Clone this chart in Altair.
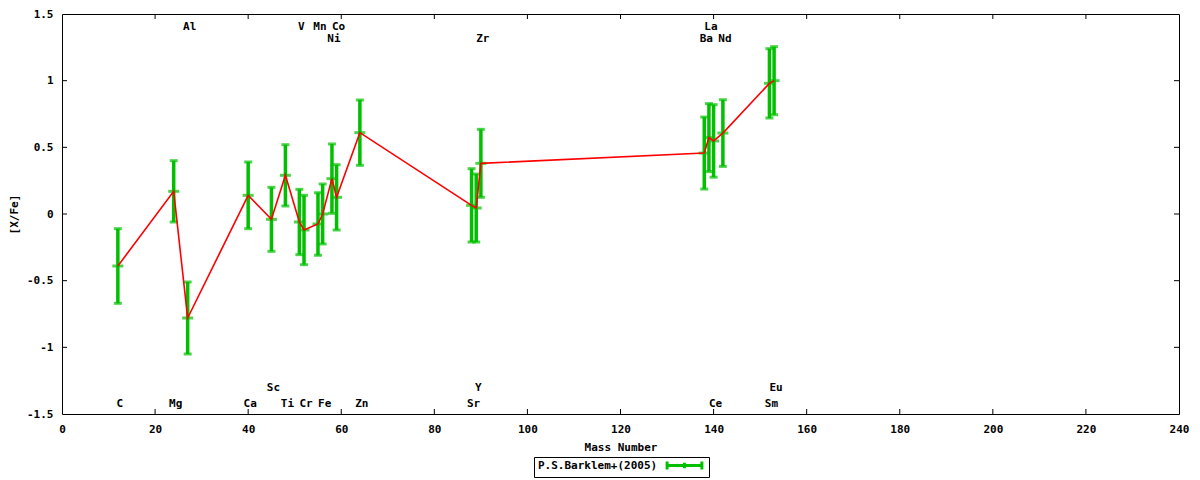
import altair as alt
import pandas as pd

# abundance pattern, one entry per element
elements = ["C", "Mg", "Al", "Ca", "Sc", "Ti", "V", "Cr", "Mn", "Fe", "Ni",
            "Co", "Zn", "Sr", "Y", "Zr", "Ba", "La", "Ce", "Nd", "Sm", "Eu"]
mass = [12, 24, 27, 40, 45, 48, 51, 52, 55, 56, 58,
        59, 64, 88, 89, 90, 138, 139, 140, 142, 152, 153]
xfe = [-0.39, 0.17, -0.78, 0.14, -0.04, 0.29, -0.06, -0.12, -0.075, 0.00, 0.265,
       0.125, 0.61, 0.065, 0.045, 0.38, 0.457, 0.573, 0.548, 0.607, 0.98, 1.00]
err = [0.28, 0.23, 0.27, 0.25, 0.24, 0.23, 0.245, 0.26, 0.235, 0.225, 0.26,
       0.245, 0.245, 0.275, 0.255, 0.255, 0.27, 0.255, 0.272, 0.25, 0.26, 0.255]
# which label row each element name sits in (t = top, b = bottom)
label_row = ["b1", "b1", "t1", "b1", "b2", "b1", "t1", "b1", "t1", "b1", "t2",
             "t1", "b1", "b1", "b2", "t2", "t2", "t1", "b1", "t2", "b1", "b2"]
source = "P.S.Barklem+(2005)"

x_ticks = list(range(0, 241, 20))
y_ticks = [-1.5, -1.0, -0.5, 0.0, 0.5, 1.0, 1.5]

row_y = {"t1": 1.405, "t2": 1.315, "b2": -1.305, "b1": -1.425}

df = pd.DataFrame({"element": elements, "mass": mass, "xfe": xfe, "err": err,
                   "row": label_row})
df["lo"] = df["xfe"] - df["err"]
df["hi"] = df["xfe"] + df["err"]
df["ly"] = df["row"].map(row_y)
df["src"] = source

W, H = 1117, 400
FONT = "DejaVu Sans Mono"
GREEN = "#00c000"

x_scale = alt.Scale(domain=[0, 240], nice=False, zero=False)
y_scale = alt.Scale(domain=[-1.5, 1.5], nice=False, zero=False)
x_axis = alt.Axis(values=x_ticks, ticks=False, domain=False, grid=False,
                  labelPadding=9, labelFlush=False, labelOverlap=False,
                  titleY=33, titleBaseline="middle")
y_axis = alt.Axis(values=y_ticks, ticks=False, domain=False, grid=False,
                  labelPadding=9, labelFlush=False, labelOverlap=False,
                  labelExpr="toString(datum.value)",
                  titleX=-48, titleY=H / 2, titleAlign="center",
                  titleBaseline="middle")


def xq(field):
    return alt.X(field, scale=x_scale, axis=x_axis, title="Mass Number")


def yq(field):
    return alt.Y(field, scale=y_scale, axis=y_axis, title="[X/Fe]")


base = alt.Chart(df)

line = base.mark_line(color="#ff0000", strokeWidth=1.6).encode(
    x=xq("mass:Q"), y=yq("xfe:Q"))

# legend: label first, error-bar sample after it (gnuplot key layout)
bars = base.mark_rule(strokeWidth=3.5).encode(
    x=xq("mass:Q"),
    y=yq("lo:Q"),
    y2="hi:Q",
    color=alt.Color(
        "src:N", scale=alt.Scale(range=[GREEN]),
        legend=alt.Legend(
            title=None, orient="none", legendX=472, legendY=443,
            symbolType="M-2.9,0H2.9M-2.9,-0.65V0.65M2.9,-0.65V0.65M0,-0.45V0.45",
            symbolSize=144, symbolStrokeWidth=3, symbolStrokeColor=GREEN,
            symbolFillColor="transparent", symbolOffset=142,
            labelOffset={"expr": "-154"},
            strokeColor="black", padding=1, cornerRadius=0,
            labelFont=FONT, labelFontSize=11, labelFontWeight="bold",
            labelColor="black",
        ),
    ),
)


def tick_layer(field, size):
    return base.mark_tick(color=GREEN, orient="horizontal", size=size,
                          thickness=3).encode(x=xq("mass:Q"), y=yq(field))


caps = tick_layer("lo:Q", 8) + tick_layer("hi:Q", 8) + tick_layer("xfe:Q", 11)

labels = base.mark_text(font=FONT, fontSize=11, fontWeight="bold", color="black",
                        align="center", baseline="middle", dx=2).encode(
    x=xq("mass:Q"), y=yq("ly:Q"), text="element:N")

# gnuplot-style inward ticks on all four sides
xt = alt.Chart(pd.DataFrame({"t": x_ticks[1:-1]}))
yt = alt.Chart(pd.DataFrame({"t": y_ticks[1:-1]}))
inner_ticks = (
    xt.mark_rule(color="black").encode(x=xq("t:Q"), y=alt.value(H), y2=alt.value(H - 5))
    + xt.mark_rule(color="black").encode(x=xq("t:Q"), y=alt.value(0), y2=alt.value(5))
    + yt.mark_rule(color="black").encode(y=yq("t:Q"), x=alt.value(0), x2=alt.value(5))
    + yt.mark_rule(color="black").encode(y=yq("t:Q"), x=alt.value(W), x2=alt.value(W - 5))
)

chart = (
    alt.layer(inner_ticks, bars, caps, line, labels)
    .properties(width=W, height=H, autosize=alt.AutoSizeParams(type="none"),
                padding={"left": 54, "top": 6, "right": 12, "bottom": 66})
    .configure_view(stroke="black", strokeWidth=1)
    .configure_axis(labelFont=FONT, labelFontSize=11, labelFontWeight="bold",
                    labelColor="black", titleFont=FONT, titleFontSize=11,
                    titleFontWeight="bold", titleColor="black")
)

chart.save("out.html", embed_options={"renderer": "svg", "actions": False})
